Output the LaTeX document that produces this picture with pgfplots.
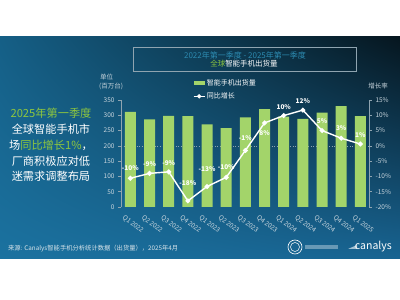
\documentclass[border=0pt]{standalone}
\usepackage{pgfplots}
\pgfplotsset{compat=1.18}
\usetikzlibrary{shadings}
\usepackage{fontspec}
\setmainfont{Noto Sans CJK SC}
\definecolor{barg}{HTML}{A3D46A}
\definecolor{tgreen}{HTML}{8DC63F}
\definecolor{tickc}{HTML}{C8D5DD}
\definecolor{axc}{HTML}{8FA4B0}
\definecolor{titleteal}{HTML}{2C8AB0}
\definecolor{footc}{HTML}{D8E4EA}
\definecolor{bgUL}{HTML}{155F86}
\definecolor{bgUR}{HTML}{06161F}
\definecolor{bgLL}{HTML}{1B72A0}
\definecolor{bgLR}{HTML}{186492}
\begin{document}
\begin{tikzpicture}
\useasboundingbox (0pt,0pt) rectangle (400pt,300pt);
\fill[white] (0pt,0pt) rectangle (400pt,300pt);
\shade[upper left=bgUL, upper right=bgUR, lower left=bgLL, lower right=bgLR] (0pt,41pt) rectangle (400pt,263pt);

% title box
\draw[axc, line width=0.5pt] (133pt,229pt) rectangle (356pt,253pt);
\node[text=titleteal, font=\fontsize{8}{9}\selectfont] at (245pt,245pt) {2022年第一季度 - 2025年第一季度};
\node[text=white, font=\fontsize{7.5}{9}\selectfont] at (244pt,236pt) {\textcolor{tgreen}{全球}智能手机出货量};

% left text block
\node[align=center, text=white, font=\fontsize{11.2}{15.8}\selectfont] at (51pt,155pt)
 {\textcolor{tgreen}{2025年第一季度}\\全球智能手机市\\场\textcolor{tgreen}{同比增长1\%}，\\厂商积极应对低\\迷需求调整布局};

% unit labels
\node[anchor=west, text=tickc, font=\fontsize{6.5}{7}\selectfont, inner sep=0pt] at (100pt,223pt) {单位};
\node[anchor=west, text=tickc, font=\fontsize{6.5}{7}\selectfont, inner sep=0pt] at (99pt,214pt) {(百万台)};
\node[text=tickc, font=\fontsize{6.5}{7}\selectfont, inner sep=0pt] at (378pt,214pt) {增长率};

\begin{axis}[
  at={(121pt,93pt)}, anchor=south west, scale only axis,
  width=248pt, height=107pt,
  xmin=-0.49, xmax=12.45, ymin=0, ymax=350,
  ytick={0,50,...,350},
  axis y line*=left, axis x line*=bottom,
  x axis line style={draw=none},
  y axis line style={-, draw=axc, line width=0.5pt},
  ytick style={draw=axc, line width=0.5pt}, xtick style={draw=none},
  tick align=outside, major tick length=3pt,
  xtick={0,...,12},
  xticklabels={Q1 2022,Q2 2022,Q3 2022,Q4 2022,Q1 2023,Q2 2023,Q3 2023,Q4 2023,Q1 2024,Q2 2024,Q3 2024,Q4 2024,Q1 2025},
  xticklabel style={rotate=-38, anchor=north west, font=\fontsize{6.5}{7}\selectfont, text=tickc, xshift=-5pt, yshift=-3pt},
  yticklabel style={font=\fontsize{6.5}{7}\selectfont, text=tickc},
  /pgf/number format/assume math mode=true,
  legend style={at={(0.29,1.21)}, anchor=north west, draw=none, fill=none, text=white,
    font=\fontsize{7}{8}\selectfont, row sep=3pt, inner sep=0pt, nodes={inner sep=1.5pt}},
  legend cell align=left,
  clip=false]
\draw[dotted, axc, line width=0.6pt] (axis cs:-0.49,200) -- (axis cs:12.45,200);
\addplot[ybar, bar width=11pt, fill=barg, draw=none,
  legend image code/.code={\fill[barg] (0pt,-1.8pt) rectangle (11pt,1.8pt);}]
  coordinates {(0,311) (1,287) (2,298) (3,297) (4,270) (5,258) (6,293) (7,320) (8,296) (9,288) (10,309) (11,330) (12,297)};
\addlegendentry{智能手机出货量}
\addlegendimage{white, line width=1.2pt, legend image code/.code={\draw[white, line width=1.2pt] (0pt,0pt) -- (11pt,0pt); \fill[white] (5.5pt,0pt) circle (1.5pt);}}
\addlegendentry{同比增长}
\end{axis}

\begin{axis}[
  at={(121pt,93pt)}, anchor=south west, scale only axis,
  width=248pt, height=107pt,
  xmin=-0.49, xmax=12.45, ymin=-20, ymax=15,
  ytick={-20,-15,...,15},
  axis y line*=right, axis x line=none,
  y axis line style={-, draw=axc, line width=0.5pt},
  ytick style={draw=axc, line width=0.5pt},
  tick align=outside, major tick length=3pt,
  yticklabel={\pgfmathprintnumber{\tick}\%},
  yticklabel style={font=\fontsize{6.5}{7}\selectfont, text=tickc},
  /pgf/number format/assume math mode=true,
  clip=false]
\addplot[white, line width=1.4pt, mark=*, mark size=1.7pt, mark options={fill=white, draw=white},
  nodes near coords={\pgfmathprintnumber{\pgfplotspointmeta}\%},
  point meta=explicit,
  visualization depends on={value \thisrow{yo} \as \yo},
  every node near coord/.append style={anchor=center, yshift=\yo pt, font=\bfseries\fontsize{6.5}{7}\selectfont, text=white, inner sep=0pt}]
  table[x=x, y=y, meta=lab] {
x y lab yo
0 -10.6 -10 10
1 -9.0 -9 9
2 -8.5 -9 9
3 -18.0 -18 18
4 -13.3 -13 17
5 -10.3 -10 10
6 -1.5 -1 12
7 7.5 8 -10
8 9.9 10 9
9 11.7 12 9
10 5.0 5 9
11 2.5 3 10
12 0.6 1 9
};
\end{axis}

% footer
\node[anchor=west, text=footc, font=\fontsize{6.3}{7}\selectfont, inner sep=0pt] at (8pt,51pt) {来源: Canalys智能手机分析统计数据（出货量），2025年4月};
\draw[white, line width=0.6pt] (295pt,53pt) circle (7pt);
\draw[white, line width=0.5pt] (295pt,53pt) circle (4.5pt);
\fill[white, opacity=0.35] (305pt,51pt) rectangle (338pt,55pt);
\node[anchor=east, text=white, font=\fontsize{10.5}{12}\selectfont, inner sep=0pt] at (392pt,53pt) {canalys};
\fill[white, opacity=0.6] (348pt,51pt) -- (357pt,51pt) -- (357pt,55pt) -- cycle;
\end{tikzpicture}
\end{document}
